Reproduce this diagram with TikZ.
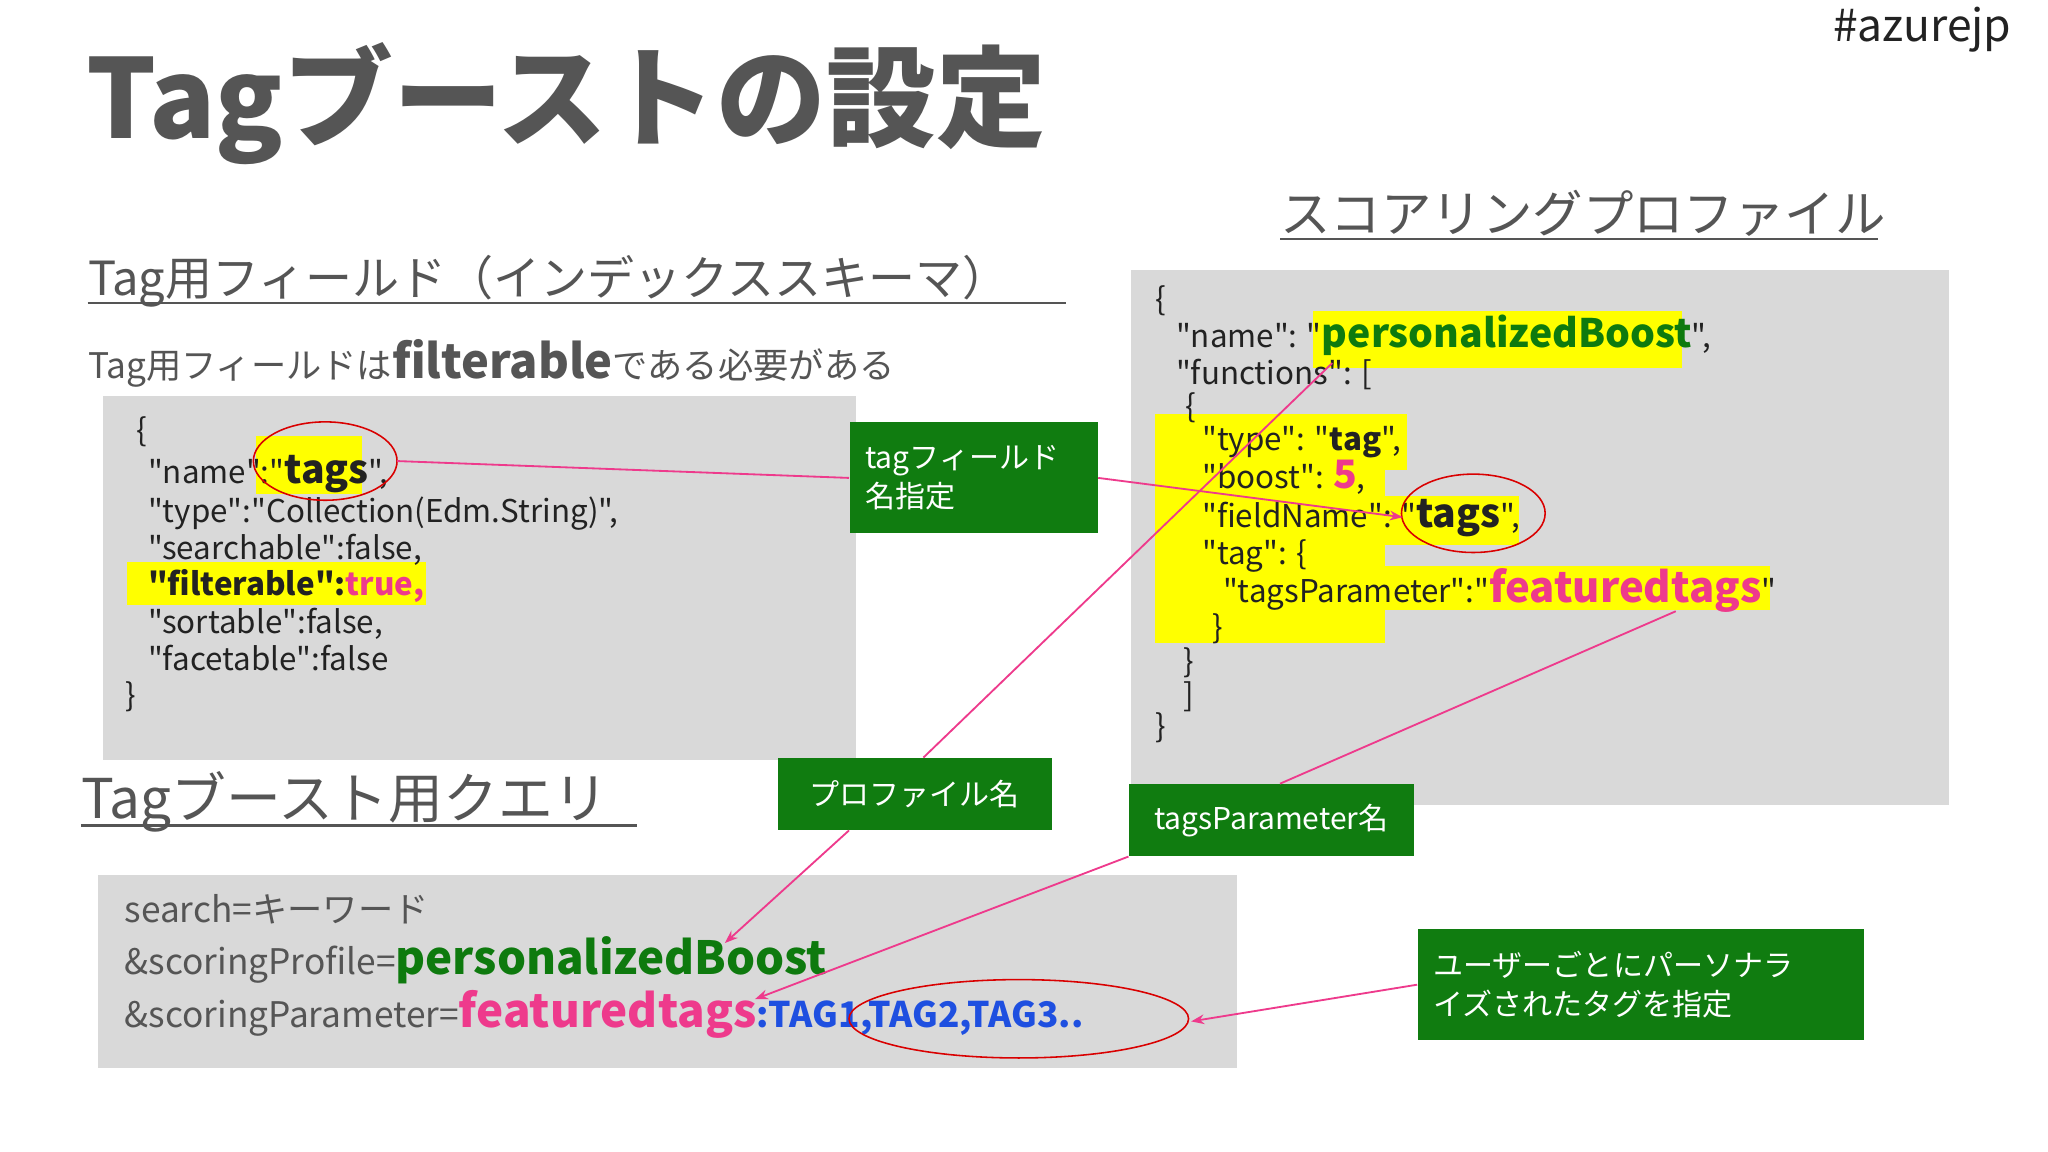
\documentclass[tikz,border=0pt]{standalone}
\usepackage{fontspec}
\setmainfont{Noto Sans CJK JP}[Ligatures=TeXOff]
\usetikzlibrary{arrows.meta}
\definecolor{hgray}{HTML}{555555}
\definecolor{boxgray}{HTML}{D9D9D9}
\definecolor{gbox}{HTML}{107C10}
\definecolor{pinkc}{HTML}{EE3A8C}
\definecolor{tgreen}{HTML}{0E7A0E}
\definecolor{tblue}{HTML}{1E4FE0}
\definecolor{hl}{HTML}{FFFF00}
\definecolor{ctext}{HTML}{222222}
\tikzset{
  code/.style={anchor=base west,inner sep=0pt,text=ctext,font=\fontsize{12}{14}\selectfont},
  gnote/.style={fill=gbox,text=white,inner sep=0pt,font=\fontsize{11.5}{15}\selectfont,align=left},
  conn/.style={pinkc,line width=0.7pt},
  carr/.style={conn,-{Stealth[length=5pt]}},
  redell/.style={draw=red!85!black,line width=0.6pt},
  head/.style={anchor=base west,inner sep=0pt,text=hgray}
}
\begin{document}
\begin{tikzpicture}[x=0.5pt,y=-0.5pt]
\useasboundingbox[fill=white] (0,0) rectangle (1568,882);
% title
\node[head,font=\fontsize{42}{48}\selectfont\bfseries] (title) at (66,106) {Tagブーストの設定};
\node[head,font=\fontsize{17}{20}\selectfont,text=ctext] (hash) at (1403,32) {\#azurejp};
% headings
\node[head,font=\fontsize{19.3}{24}\selectfont] (h2) at (980,178) {スコアリングプロファイル};
\draw[hgray,line width=1pt] (980,183) -- (1438,183);
\node[head,font=\fontsize{18}{22}\selectfont] (h1) at (67,226) {Tag用フィールド（インデックススキーマ）};
\draw[hgray,line width=1pt] (67,232) -- (816,232);
\node[head,font=\fontsize{13.5}{16}\selectfont] (note) at (67,290) {Tag用フィールドは{\fontsize{18}{20}\selectfont\bfseries filterable}である必要がある};
% left box
\fill[boxgray] (79,303) rectangle (655,582);
\fill[hl] (196,334) rectangle (277,378);
\fill[hl] (97,430) rectangle (326,463);
\node[code] (l0) at (104,338) {\{};
\node[code] (l1) at (113,370) {"name":"{\fontsize{15}{16}\selectfont\bfseries tags}",};
\node[code] (l2) at (113,400) {"type":"Collection(Edm.String)",};
\node[code] (l3) at (113,428) {"searchable":false,};
\node[code] (l4) at (113,456) {\bfseries "filterable":\textcolor{pinkc}{true,}};
\node[code] (l5) at (113,485) {"sortable":false,};
\node[code] (l6) at (113,513) {"facetable":false};
\node[code] (l7) at (96,541) {\}};
\draw[redell] (249,353) ellipse (55 and 30);
\coordinate (tagsL) at (304,353);
% right box
\fill[boxgray] (866,207) rectangle (1492,616);
\fill[hl] (1005,238) rectangle (1288,282);
\fill[hl] (884,317) rectangle (1077,360);
\fill[hl] (884,317) rectangle (1060,492);
\fill[hl] (884,345) rectangle (1045,388);
\fill[hl] (884,380) rectangle (1163,417);
\fill[hl] (884,433) rectangle (1355,467);
\node[code] (r0) at (884,238) {\{};
\node[code] (r1) at (900,266) {"name": "{\fontsize{15}{16}\selectfont\bfseries\color{tgreen}personalizedBoost}",};
\node[code] (r2) at (900,294) {"functions": [};
\node[code] (r3) at (907,320) {\{};
\node[code] (r4) at (920,345) {"type": "\textbf{tag}",};
\node[code] (r5) at (920,374) {"boost": {\fontsize{15}{16}\selectfont\bfseries\color{pinkc}5},};
\node[code] (r6) at (920,404) {"fieldName": "{\fontsize{15}{16}\selectfont\bfseries tags}",};
\node[code] (r7) at (920,432) {"tag": \{};
\node[code] (r8) at (936,461) {"tagsParameter":"{\fontsize{16}{17}\selectfont\bfseries\color{pinkc}featuredtags}"};
\node[code] (r9) at (928,489) {\}};
\node[code] (r10) at (906,515) {\}};
\node[code] (r11) at (906,541) {]};
\node[code] (r12) at (884,565) {\}};
\draw[redell] (1128,393) ellipse (55 and 30);
\coordinate (tagsR) at (1074,396);
\coordinate (pbR) at (1020,278);
\coordinate (ftR) at (1283,468);
% query section
\node[head,font=\fontsize{21}{24}\selectfont] (h3) at (62,627) {Tagブースト用クエリ};
\draw[hgray,line width=1pt] (62,632) -- (488,632);
\fill[boxgray] (75,670) rectangle (947,818);
\node[code,text=hgray,font=\fontsize{13.5}{16}\selectfont] (q1) at (95,706) {search=キーワード};
\node[code,text=hgray,font=\fontsize{13.5}{16}\selectfont] (q2) at (95,746) {\&scoringProfile={\fontsize{17.5}{18}\selectfont\bfseries\color{tgreen}personalizedBoost}};
\node[code,text=hgray,font=\fontsize{13.5}{16}\selectfont] (q3) at (95,787) {\&scoringParameter={\fontsize{17.5}{18}\selectfont\bfseries\color{pinkc}featuredtags}{\bfseries\color{tblue}:TAG1,TAG2,TAG3..}};
\draw[redell] (780,780) ellipse (130 and 30);
\coordinate (qpb) at (555,722);
\coordinate (qft) at (578,765);
\coordinate (ellL) at (912,782);
% green notes
\node[gnote,inner xsep=6pt,minimum width=95pt,minimum height=42.5pt,anchor=north west,text width=83pt] (n1) at (650,323) {tagフィールド\\名指定};
\node[gnote,minimum width=105pt,minimum height=27.5pt,anchor=north west,align=center] (n2) at (595,580) {プロファイル名};
\node[gnote,minimum width=109pt,minimum height=27.5pt,anchor=north west,align=center] (n3) at (864,600) {tagsParameter名};
\node[gnote,inner xsep=6pt,minimum width=171pt,minimum height=42.5pt,anchor=north west,text width=159pt] (n4) at (1085,711) {ユーザーごとにパーソナラ\\イズされたタグを指定};
% connectors
\draw[conn] (tagsL) -- (n1.west);
\draw[carr] (n1.east) -- (tagsR);
\draw[conn] (pbR) -- (n2.north -| 707,0);
\draw[carr] (n2.south -| 650,0) -- (qpb);
\draw[conn] (ftR) -- (n3.north -| 980,0);
\draw[carr] (n3.south west) -- (qft);
\draw[carr] (n4.west) -- (ellL);
\end{tikzpicture}
\end{document}
